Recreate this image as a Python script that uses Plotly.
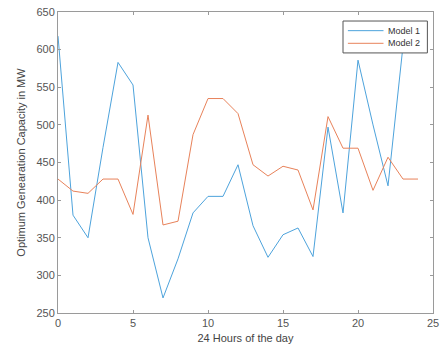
import plotly.graph_objects as go

hours_m1 = list(range(24))
model1 = [618, 380, 350, 470, 583, 553, 350, 270, 322, 383, 405, 405, 447, 366, 324,
          354, 363, 325, 497, 383, 586, 500, 419, 605]
hours_m2 = list(range(25))
model2 = [428, 412, 409, 428, 428, 381, 513, 367, 372, 487, 535, 535, 515, 447, 432,
          445, 440, 387, 511, 469, 469, 413, 457, 428, 428]
series_names = ["Model 1", "Model 2"]
series_colors = ["#4DA3DC", "#E8825A"]

x_ticks = [0, 5, 10, 15, 20, 25]
y_ticks = [250, 300, 350, 400, 450, 500, 550, 600, 650]

FONT = "Liberation Sans, Arial"

fig = go.Figure()
fig.add_trace(go.Scatter(x=hours_m1, y=model1, mode="lines", name=series_names[0],
                         line=dict(color=series_colors[0], width=1), showlegend=False))
fig.add_trace(go.Scatter(x=hours_m2, y=model2, mode="lines", name=series_names[1],
                         line=dict(color=series_colors[1], width=1), showlegend=False))

axis_common = dict(showgrid=False, zeroline=False, showline=True, mirror="ticks",
                   linecolor="#9a9a9a", linewidth=1, ticks="inside", ticklen=3,
                   tickcolor="#9a9a9a", automargin=False, ticklabeloverflow="allow",
                   tickfont=dict(family=FONT, size=11, color="#555555"))

# compact MATLAB-style legend box (paper coordinates)
shapes = [dict(type="rect", xref="paper", yref="paper", x0=0.76, x1=0.985, y0=0.864, y1=0.970,
               line=dict(color="#555555", width=1), fillcolor="white", layer="above")]
annotations = []
for i, (nm, col) in enumerate(zip(series_names, series_colors)):
    yy = 0.938 - i * 0.042
    shapes.append(dict(type="line", xref="paper", yref="paper", x0=0.773, x1=0.868, y0=yy, y1=yy,
                       line=dict(color=col, width=1), layer="above"))
    annotations.append(dict(xref="paper", yref="paper", x=0.874, y=yy, text=nm, showarrow=False,
                            xanchor="left", yanchor="middle",
                            font=dict(family=FONT, size=9, color="#333333")))

fig.update_layout(
    width=440, height=354,
    margin=dict(l=58, r=7, t=12, b=41),
    paper_bgcolor="white", plot_bgcolor="white",
    xaxis=dict(range=[0, 25], tickvals=x_ticks, **axis_common,
               title=dict(text="24 Hours of the day", standoff=6,
                          font=dict(family=FONT, size=11, color="#444444"))),
    yaxis=dict(range=[250, 650], tickvals=y_ticks, **axis_common,
               title=dict(text="Optimum Genearation Capacity in MW", standoff=8,
                          font=dict(family=FONT, size=11, color="#444444"))),
    shapes=shapes,
    annotations=annotations,
    showlegend=False,
)

fig.write_html("out.html", config={"displayModeBar": False},
               post_script="document.body.style.margin='0px';")
